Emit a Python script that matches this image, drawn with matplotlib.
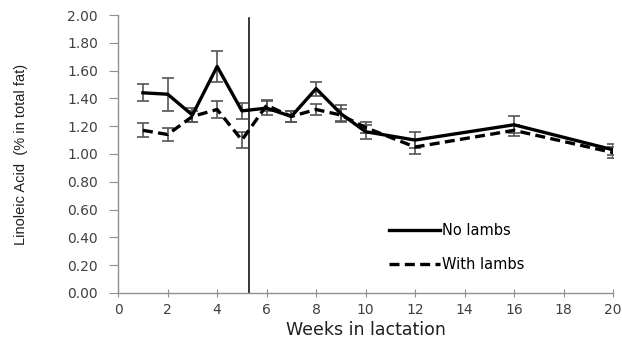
import numpy as np
import matplotlib.pyplot as plt

weeks = [1, 2, 3, 4, 5, 6, 7, 8, 9, 10, 12, 16, 20]

no_lambs = [1.44, 1.43, 1.28, 1.63, 1.31, 1.33, 1.27, 1.47, 1.29, 1.16, 1.10, 1.21, 1.03]
no_lambs_err = [0.06, 0.12, 0.05, 0.11, 0.06, 0.05, 0.04, 0.05, 0.06, 0.05, 0.06, 0.06, 0.04]

with_lambs = [1.17, 1.14, 1.27, 1.32, 1.10, 1.35, 1.27, 1.32, 1.28, 1.19, 1.05, 1.17, 1.01]
with_lambs_err = [0.05, 0.05, 0.04, 0.06, 0.06, 0.04, 0.04, 0.04, 0.04, 0.04, 0.05, 0.04, 0.04]

weaning_week = 5.3

fig = plt.figure(figsize=(6.22, 3.41), dpi=100)
ax = fig.add_axes([0.19, 0.141, 0.7955, 0.815])

ax.errorbar(weeks, no_lambs, yerr=no_lambs_err, color='black', lw=2.4,
            ecolor='#555555', elinewidth=1.2, capsize=4.5, capthick=1.2,
            label='No lambs', zorder=3)
ax.errorbar(weeks, with_lambs, yerr=with_lambs_err, color='black', lw=2.4,
            ls=(0, (3, 1.6)), ecolor='#555555', elinewidth=1.2, capsize=4.5,
            capthick=1.2, label='With lambs', zorder=3)

ax.plot([weaning_week, weaning_week], [0, 1.98], color='black', lw=1.1)

ax.set_xlim(0, 20)
ax.set_ylim(0, 2.0)
ax.set_xticks(np.arange(0, 21, 2))
ax.set_yticks(np.arange(0, 2.01, 0.2))
ax.set_yticklabels([f'{v:.2f}' for v in np.arange(0, 2.01, 0.2)])

for s in ['top', 'right']:
    ax.spines[s].set_visible(False)
for s in ['left', 'bottom']:
    ax.spines[s].set_color('#909090')
    ax.spines[s].set_linewidth(1.0)

ax.tick_params(axis='y', direction='out', length=6.5, color='#909090',
               labelsize=10, labelcolor='#404040', pad=8)
ax.tick_params(axis='x', direction='inout', length=6, color='#909090',
               labelsize=10, labelcolor='#404040', pad=4)
for lab in ax.get_xticklabels() + ax.get_yticklabels():
    lab.set_family('DejaVu Sans')

ax.set_xlabel('Weeks in lactation', fontsize=12.5, family='DejaVu Sans',
              color='#202020', labelpad=3)
ax.set_ylabel('Linoleic Acid  (% in total fat)', fontsize=10.5,
              family=['Liberation Sans Narrow', 'Liberation Sans'],
              color='#202020')
ax.yaxis.set_label_coords(-0.182, 0.5)

handles, labels = ax.get_legend_handles_labels()
handles = [h[0] for h in handles]
leg = ax.legend(handles, labels, loc='upper left', bbox_to_anchor=(0.52, 0.30),
                frameon=False, handlelength=3.5, handletextpad=0.15,
                labelspacing=1.3, prop={'family': 'DejaVu Sans', 'size': 10.5})

fig.savefig('out.png', dpi=100)
